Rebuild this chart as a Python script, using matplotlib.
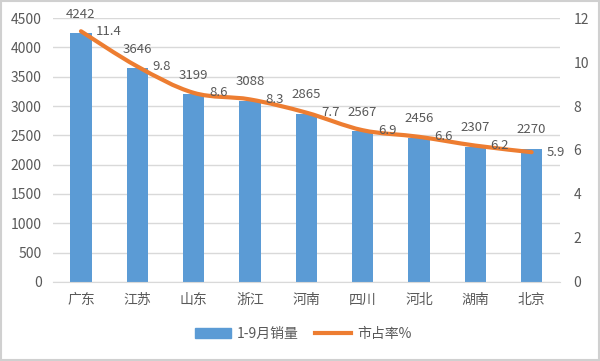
import numpy as np
import matplotlib
matplotlib.use("Agg")
import matplotlib.pyplot as plt
from matplotlib.path import Path
from matplotlib.patches import PathPatch, Rectangle
from matplotlib.lines import Line2D

plt.rcParams['font.family'] = ['Noto Sans CJK SC', 'DejaVu Sans']

# Dados
provincias = ["广东", "江苏", "山东", "浙江", "河南", "四川", "河北", "湖南", "北京"]
vendas = [4242, 3646, 3199, 3088, 2865, 2567, 2456, 2307, 2270]
share = [11.4, 9.8, 8.6, 8.3, 7.7, 6.9, 6.6, 6.2, 5.9]
left_ticks = [0, 500, 1000, 1500, 2000, 2500, 3000, 3500, 4000, 4500]
right_ticks = [0, 2, 4, 6, 8, 10, 12]

azul = "#5B9BD5"
laranja = "#ED7D31"
cinza = "#595959"

fig = plt.figure(figsize=(6, 3.61), dpi=100)
ax = fig.add_axes([0.088, 0.219, 0.845, 0.731])
x = np.arange(len(provincias))

# Barras
ax.bar(x, vendas, width=0.38, color=azul, zorder=2)
ax.set_xlim(-0.5, len(provincias) - 0.5)
ax.set_ylim(0, 4500)
ax.set_yticks(left_ticks)
ax.set_xticks(x)
ax.set_xticklabels(provincias)
ax.grid(axis='y', color="#D9D9D9", linewidth=1, zorder=0)
for s in ["top", "left", "right"]:
    ax.spines[s].set_visible(False)
ax.spines["bottom"].set_color("#D9D9D9")
ax.tick_params(axis='both', length=0, labelsize=10, labelcolor=cinza)
ax.tick_params(axis='x', pad=8)
ax.tick_params(axis='y', pad=8)

for xi, v in zip(x, vendas):
    ax.annotate(str(v), (xi, v), xytext=(0, 9), textcoords='offset points',
                ha='center', va='bottom', fontsize=9.5, color=cinza)

# Linha suavizada (Catmull-Rom -> Bezier)
ax2 = ax.twinx()
ax2.set_ylim(0, 12)
ax2.set_yticks(right_ticks)
for s in ax2.spines.values():
    s.set_visible(False)
ax2.tick_params(axis='y', length=0, labelsize=10, labelcolor=cinza, pad=10)

pts = np.column_stack([x, share]).astype(float)
verts = [tuple(pts[0])]
codes = [Path.MOVETO]
for i in range(len(pts) - 1):
    p0 = pts[i - 1] if i > 0 else pts[i]
    p1 = pts[i]
    p2 = pts[i + 1]
    p3 = pts[i + 2] if i + 2 < len(pts) else pts[i + 1]
    c1 = p1 + (p2 - p0) / 6
    c2 = p2 - (p3 - p1) / 6
    verts += [tuple(c1), tuple(c2), tuple(p2)]
    codes += [Path.CURVE4] * 3
ax2.add_patch(PathPatch(Path(verts, codes), facecolor='none', edgecolor=laranja,
                        linewidth=3, capstyle='round', zorder=3))

for xi, v in zip(x, share):
    ax2.annotate(f"{v}", (xi, v), xytext=(11, 0), textcoords='offset points',
                 ha='left', va='center', fontsize=9.5, color=cinza)

# Legenda
handles = [Rectangle((0, 0), 1, 1, color=azul),
           Line2D([0], [0], color=laranja, linewidth=3)]
fig.legend(handles, ["1-9月销量", "市占率%"], loc='center', bbox_to_anchor=(0.505, 0.075),
           ncol=2, frameon=False, fontsize=10, labelcolor=cinza,
           handlelength=2.6, columnspacing=1.2, handletextpad=0.4)

# Moldura
fig.patches.append(Rectangle((0.002, 0.004), 0.996, 0.992, transform=fig.transFigure,
                             fill=False, edgecolor="#D0D0D0", linewidth=1.5))

plt.savefig("out.png", dpi=100)
